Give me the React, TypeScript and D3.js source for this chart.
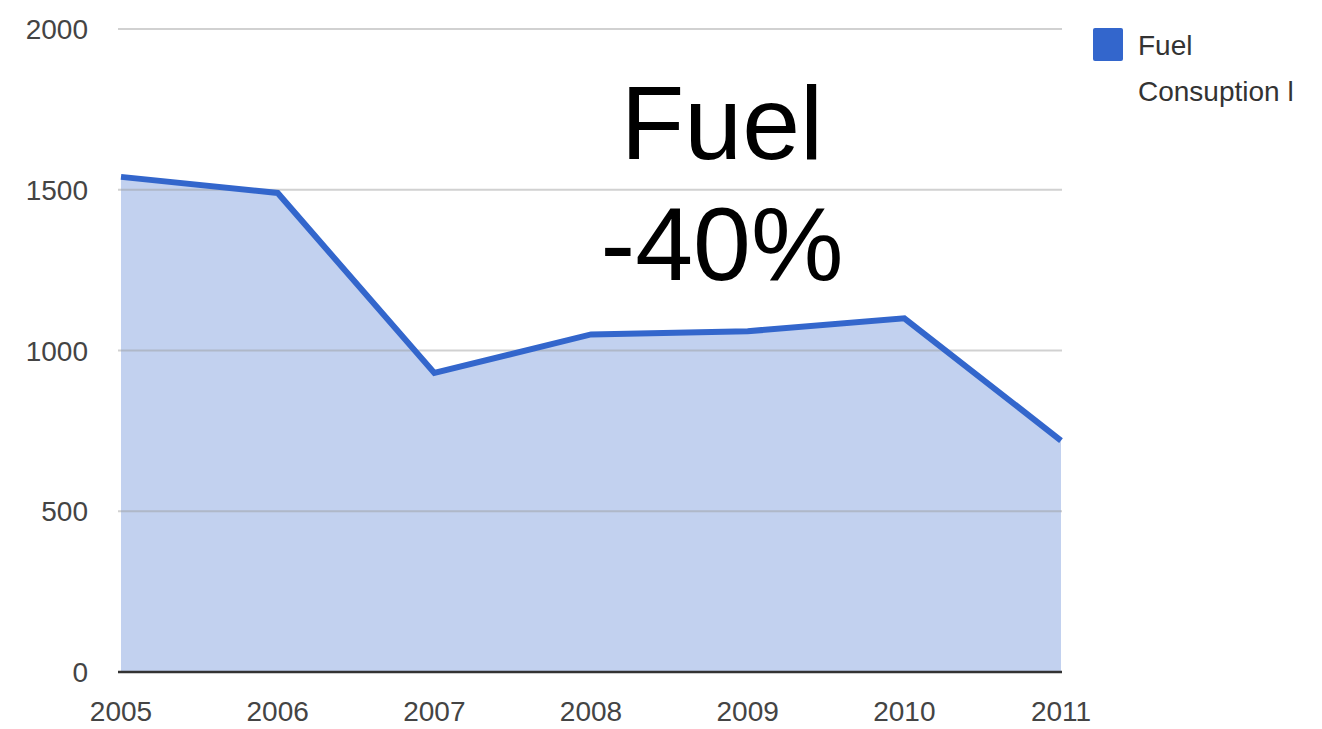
import React, { useEffect, useRef } from 'react';
import * as d3 from 'd3';

const YEARS = ['2005', '2006', '2007', '2008', '2009', '2010', '2011'];
const FUEL = [1540, 1490, 930, 1050, 1060, 1100, 720];
const Y_TICKS = [0, 500, 1000, 1500, 2000];
const LEGEND_LINES = ['Fuel', 'Consuption l'];
const TITLE_LINES = ['Fuel', '-40%'];

const App: React.FC = () => {
  const svgRef = useRef<SVGSVGElement>(null);

  useEffect(() => {
    if (!svgRef.current) return;
    const width = 1322;
    const height = 729;
    const svg = d3.select(svgRef.current);
    svg.selectAll('*').remove();

    const font = '"Liberation Sans", Arial, sans-serif';

    const x = d3.scalePoint<string>().domain(YEARS).range([121, 1061]);
    const y = d3.scaleLinear().domain([0, 2000]).range([672, 29]);

    const data = YEARS.map((yr, i) => ({ yr, v: FUEL[i] }));

    // area fill
    const area = d3.area<{ yr: string; v: number }>()
      .x((d) => x(d.yr)!)
      .y0(y(0))
      .y1((d) => y(d.v));

    svg.append('path')
      .datum(data)
      .attr('d', area)
      .attr('fill', '#c2d1ef');

    // gridlines (drawn over the fill, like the original)
    svg.append('g')
      .selectAll('line')
      .data(Y_TICKS.filter((t) => t > 0))
      .enter()
      .append('line')
      .attr('x1', 118)
      .attr('x2', 1062)
      .attr('y1', (d) => y(d))
      .attr('y2', (d) => y(d))
      .attr('stroke', '#999')
      .attr('stroke-opacity', 0.45)
      .attr('stroke-width', 2);

    // baseline
    svg.append('line')
      .attr('x1', 118)
      .attr('x2', 1062)
      .attr('y1', y(0))
      .attr('y2', y(0))
      .attr('stroke', '#333')
      .attr('stroke-width', 2.5);

    const line = d3.line<{ yr: string; v: number }>()
      .x((d) => x(d.yr)!)
      .y((d) => y(d.v));

    svg.append('path')
      .datum(data)
      .attr('d', line)
      .attr('fill', 'none')
      .attr('stroke', '#3366cc')
      .attr('stroke-width', 6)
      .attr('stroke-linejoin', 'miter');

    // y labels
    svg.append('g')
      .selectAll('text')
      .data(Y_TICKS)
      .enter()
      .append('text')
      .attr('x', 88)
      .attr('y', (d) => y(d))
      .attr('dy', '0.36em')
      .attr('text-anchor', 'end')
      .attr('font-family', font)
      .attr('font-size', 28)
      .attr('fill', '#444')
      .text((d) => d);

    // x labels
    svg.append('g')
      .selectAll('text')
      .data(YEARS)
      .enter()
      .append('text')
      .attr('x', (d) => x(d)!)
      .attr('y', 721)
      .attr('text-anchor', 'middle')
      .attr('font-family', font)
      .attr('font-size', 28)
      .attr('fill', '#444')
      .text((d) => d);

    // legend
    svg.append('rect')
      .attr('x', 1093)
      .attr('y', 28)
      .attr('width', 30)
      .attr('height', 33)
      .attr('rx', 2)
      .attr('fill', '#3366cc');

    svg.append('g')
      .selectAll('text')
      .data(LEGEND_LINES)
      .enter()
      .append('text')
      .attr('x', 1138)
      .attr('y', (d, i) => 55 + i * 46)
      .attr('font-family', font)
      .attr('font-size', 28)
      .attr('fill', '#333')
      .text((d) => d);

    // big annotation
    svg.append('g')
      .selectAll('text')
      .data(TITLE_LINES)
      .enter()
      .append('text')
      .attr('x', 722)
      .attr('y', (d, i) => 159 + i * 121)
      .attr('text-anchor', 'middle')
      .attr('font-family', font)
      .attr('font-size', 104)
      .attr('fill', '#000')
      .text((d) => d);

    svg.attr('width', width).attr('height', height);
  }, []);

  return (
    <div style={{ position: 'absolute', left: 0, top: 0, background: '#fff' }}>
      <svg ref={svgRef} width={1322} height={729} style={{ display: 'block' }} />
    </div>
  );
};

export default App;
